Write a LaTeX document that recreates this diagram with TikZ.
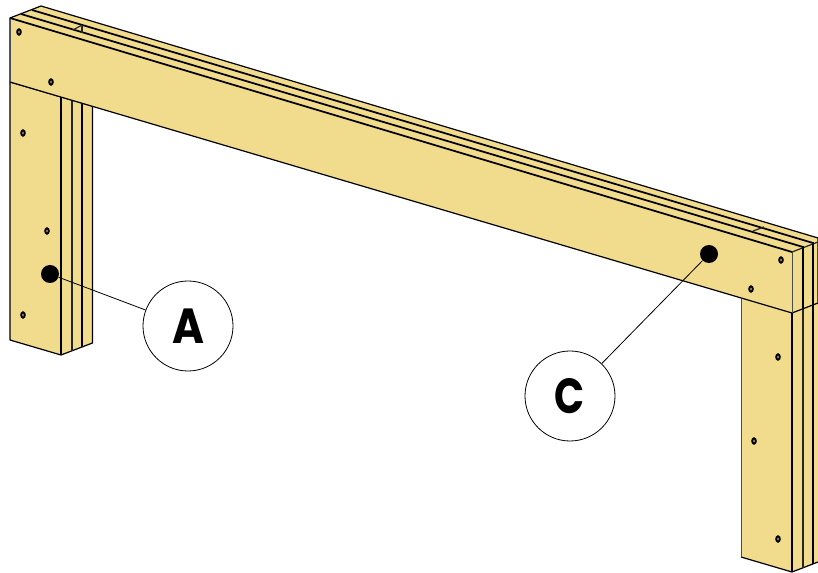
\documentclass[tikz,border=0pt]{standalone}
\usepackage{fontspec}
\setmainfont{Poppins}
\definecolor{wood}{HTML}{F1DB8D}
\tikzset{
  part/.style={fill=wood,draw=black,line width=0.9pt,line join=round},
  edgeline/.style={draw=black,line width=1.3pt},
  midedge/.style={draw=black!85,line width=0.9pt},
  thinedge/.style={draw=black!70,line width=0.6pt},
  marker/.style={circle,fill=black,inner sep=0pt,minimum size=13.5pt},
  callout/.style={circle,draw=black,fill=white,line width=0.6pt,minimum size=67.5pt,inner sep=0pt,font=\fontsize{37}{37}\selectfont\bfseries},
  leader/.style={draw=black,line width=0.6pt}
}
\begin{document}
\begin{tikzpicture}[x=0.75pt,y=-0.75pt]
\useasboundingbox (0,0) rectangle (818,573);
% left leg
\draw[part] (10,82) -- (10,340) -- (61,355) -- (92.5,343) -- (92.5,106) -- cycle;
\draw[edgeline] (61,97) -- (61,355);
\draw[edgeline] (82,103) -- (82,347);
\draw[midedge] (72,100) -- (72,351);
% right leg
\fill[wood] (741,299) -- (741,557) -- (792,572) -- (818,562) -- (818,300) -- cycle;
\draw[part] (741,557) -- (792,572) -- (818,562);
\draw[thinedge] (741,299) -- (741,557);
\draw[edgeline] (792,313) -- (792,572);
\draw[midedge] (803,309) -- (803,568);
\draw[edgeline] (813,305) -- (813,564);
% beam
\draw[part] (10,18) -- (41,6) -- (818,238) -- (818,303) -- (792,313) -- (10,82) -- cycle;
\draw[thinedge] (10,18) -- (10,82);
\draw[edgeline] (10,18) -- (792,252);
\draw[thinedge] (792,252) -- (792,313);
\draw[midedge] (792,252) -- (818,242);
\draw[edgeline] (21,14) -- (803,247) -- (803,309);
\draw[edgeline] (32,10) -- (813,243) -- (813,305);
\draw[midedge] (82,25) -- (82,33);
\draw[midedge] (73,30) -- (82,25);
\draw[midedge] (753,231) -- (764,227);
% holes
\foreach \hx/\hy in {19/32,51/82,23/133,47/231,23/315,781/260,751/289,778/357,754/441,778/539}
  {\draw[black,line width=1.5pt,fill=wood] (\hx,\hy) ellipse (1.3pt and 2pt);}
% callouts
\node[marker] (ma) at (50,274) {};
\node[marker] (mc) at (709,254) {};
\node[callout] (a) at (188,326) {\scalebox{.88}[1]{A}};
\node[callout] (c) at (570,396) {\scalebox{.8}[1]{C}};
\draw[leader] (ma) -- (a);
\draw[leader] (mc) -- (c);
\end{tikzpicture}
\end{document}
